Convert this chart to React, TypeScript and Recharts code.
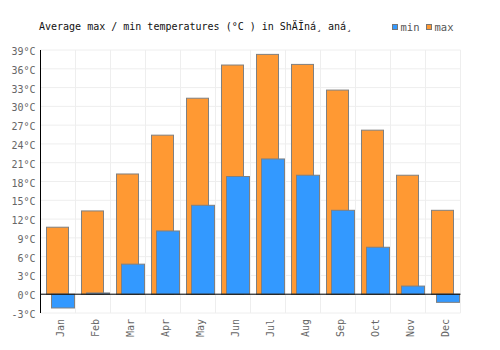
import React from 'react';
import { BarChart, Bar, XAxis, YAxis, CartesianGrid, ReferenceLine } from 'recharts';

const months = ['Jan', 'Feb', 'Mar', 'Apr', 'May', 'Jun', 'Jul', 'Aug', 'Sep', 'Oct', 'Nov', 'Dec'];
const minTemps = [-2.2, 0.2, 4.8, 10.1, 14.2, 18.8, 21.6, 19.0, 13.4, 7.5, 1.3, -1.3];
const maxTemps = [10.7, 13.3, 19.2, 25.4, 31.3, 36.6, 38.3, 36.7, 32.6, 26.2, 19.0, 13.4];
const yTicks = [-3, 0, 3, 6, 9, 12, 15, 18, 21, 24, 27, 30, 33, 36, 39];
const titleText = 'Average max / min temperatures (°C ) in ShÄĬná¸ aná¸';

const MIN_COLOR = '#3399ff';
const MAX_COLOR = '#ff9933';
const FONT = '"DejaVu Sans Mono", monospace';

const data = months.map((m, i) => ({ month: m, min: minTemps[i], max: maxTemps[i] }));

const legendItems = [
  { name: 'min', color: MIN_COLOR },
  { name: 'max', color: MAX_COLOR },
];

const BarShape = (props: any) => {
  const { x, y, width, height, fill } = props;
  const top = Math.min(y, y + height);
  const h = Math.abs(height);
  return <rect x={x + 3} y={top} width={Math.max(width - 1, 0)} height={h} fill={fill} stroke="#808080" strokeWidth={1} />;
};

const YTick = (props: any) => {
  const { x, y, payload } = props;
  return (
    <text x={x} y={y} dy={5} textAnchor="end" fill="#666" fontSize={10} fontFamily={FONT}>
      {payload.value}°C
    </text>
  );
};

const XTick = (props: any) => {
  const { x, y, payload } = props;
  return (
    <g transform={`translate(${x},${y})`}>
      <text transform="rotate(-90)" x={-6} y={0} dy={6} textAnchor="end" fill="#666" fontSize={10} fontFamily={FONT}>
        {payload.value}
      </text>
    </g>
  );
};

export default function App() {
  return (
    <div style={{ position: 'relative', width: 500, height: 342, fontFamily: FONT }}>
      <div style={{ position: 'absolute', left: 31, top: 13.5, fontSize: 10, lineHeight: '10px', color: '#111', whiteSpace: 'pre' }}>
        {titleText}
      </div>
      {legendItems.map((it, i) => (
        <div key={it.name} style={{ position: 'absolute', left: 383.5 + i * 34, top: 12.5, display: 'flex', alignItems: 'center', fontSize: 10.5, lineHeight: '12px', color: '#555' }}>
          <span style={{ display: 'inline-block', width: 6, height: 6, boxSizing: 'border-box', border: '1px solid #777', background: it.color, marginRight: 3 }} />
          <span>{it.name}</span>
        </div>
      ))}
      <BarChart
        width={500}
        height={342}
        data={data}
        margin={{ top: 42, right: 47.5, left: 0.5, bottom: 0 }}
        barGap={-18}
      >
        <CartesianGrid
          stroke="#eeeeee"
          verticalCoordinatesGenerator={({ offset }: any) =>
            Array.from({ length: months.length + 1 }, (_, i) => offset.left + (i * offset.width) / months.length)
          }
        />
        <XAxis dataKey="month" axisLine={false} tickLine={false} tickSize={0} tickMargin={0} height={37} tick={<XTick />} interval={0} />
        <YAxis
          domain={[-3, 39]}
          ticks={yTicks}
          width={32}
          axisLine={{ stroke: '#000' }}
          tickLine={false}
          tickSize={3}
          tickMargin={2}
          tick={<YTick />}
          interval={0}
          allowDataOverflow
        />
        <Bar dataKey="max" fill={MAX_COLOR} barSize={23} shape={<BarShape />} isAnimationActive={false} />
        <Bar dataKey="min" fill={MIN_COLOR} barSize={24} shape={<BarShape />} isAnimationActive={false} />
        <ReferenceLine y={0} stroke="#000" strokeWidth={1} />
      </BarChart>
    </div>
  );
}
